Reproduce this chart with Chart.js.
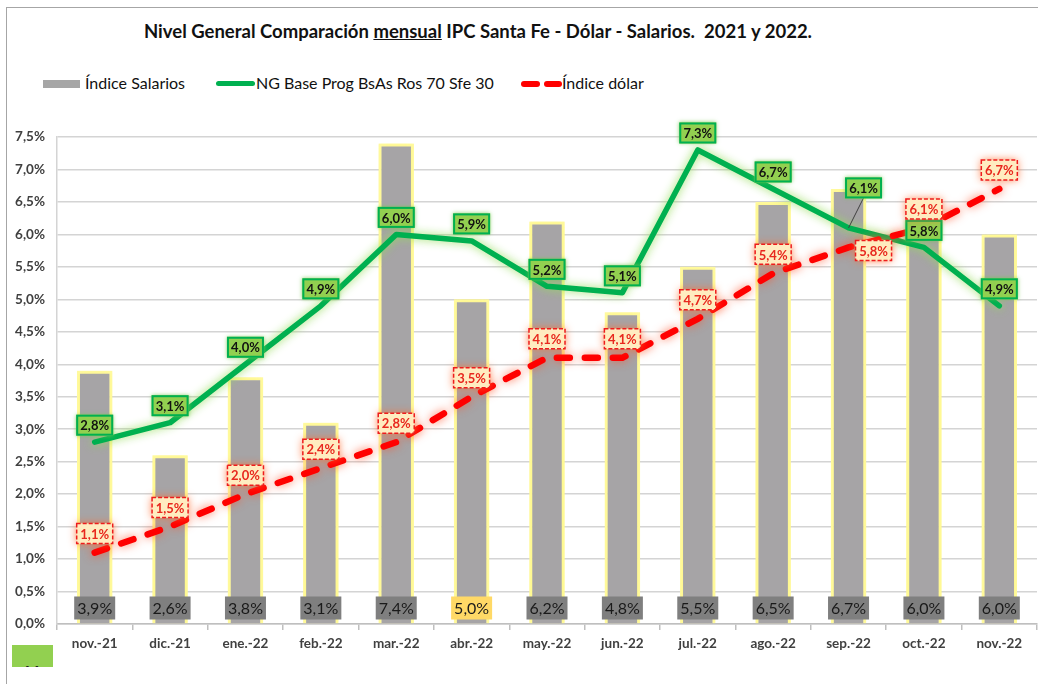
<!DOCTYPE html>
<html>
<head>
<meta charset="utf-8">
<script src="https://cdn.jsdelivr.net/npm/chart.js@4.4.1/dist/chart.umd.min.js"></script>
<style>
  body { margin: 0; background: #fff; font-family: Lato, 'Open Sans', sans-serif; }
  #wrap { position: relative; width: 1038px; height: 684px; overflow: hidden; }
  #frame { position: absolute; left: 6px; top: 7px; width: 1100px; height: 700px;
           border-left: 1px solid #a6a6a6; border-top: 1px solid #a6a6a6; }
  #title { position: absolute; top: 20px; left: 0; width: 956px; text-align: center;
           font-weight: bold; font-size: 18.5px; color: #111; white-space: pre; }
  .lg { position: absolute; font-size: 16px; color: #111; top: 73px; }
  .mk { position: absolute; }
  #mbox { position: absolute; left: 12px; top: 645px; width: 41px; height: 22px;
          background: #92d050; overflow: hidden; }
  #mbox span { position: absolute; left: 13px; top: 17px; font-weight: bold; font-size: 15px; color: #222; }
  canvas { position: absolute; left: 0; top: 0; }
</style>
</head>
<body>
<div id="wrap">
  <div id="frame"></div>
  <div id="title">Nivel General Comparación <u>mensual</u> IPC Santa Fe - Dólar - Salarios.  2021 y 2022.</div>

  <div class="mk" style="left:43px;top:80px;width:37px;height:8px;background:#a6a6a6"></div>
  <div class="lg" style="left:85px">Índice Salarios</div>
  <div class="mk" style="left:216px;top:81px;width:39px;height:5px;border-radius:3px;background:#00b050"></div>
  <div class="lg" style="left:256px">NG Base Prog BsAs Ros 70 Sfe 30</div>
  <div class="mk" style="left:521px;top:81px;width:19px;height:6px;border-radius:3px;background:#ff0000"></div>
  <div class="mk" style="left:544px;top:81px;width:18px;height:6px;border-radius:3px;background:#ff0000"></div>
  <div class="lg" style="left:562px">Índice dólar</div>

  <div id="mbox"><span>M</span></div>
  <canvas id="chart" width="1038" height="684"></canvas>
</div>

<script>
const months = ['nov.-21', 'dic.-21', 'ene.-22', 'feb.-22', 'mar.-22', 'abr.-22', 'may.-22',
                'jun.-22', 'jul.-22', 'ago.-22', 'sep.-22', 'oct.-22', 'nov.-22'];
const salarios = [3.9, 2.6, 3.8, 3.1, 7.4, 5.0, 6.2, 4.8, 5.5, 6.5, 6.7, 6.0, 6.0];
const ngBase = [2.8, 3.1, 4.0, 4.9, 6.0, 5.9, 5.2, 5.1, 7.3, 6.7, 6.1, 5.8, 4.9];
const dolar = [1.1, 1.5, 2.0, 2.4, 2.8, 3.5, 4.1, 4.1, 4.7, 5.4, 5.8, 6.1, 6.7];

const pct = v => v.toFixed(1).replace('.', ',') + '%';
const FONT = 'Lato, "Open Sans", sans-serif';

// glow behind the series, like the excel "soft edge" effect
const glow = {
  id: 'glow',
  beforeDatasetDraw(chart, args) {
    const ctx = chart.ctx;
    ctx.save();
    const lbl = args.meta.label;
    if (lbl === 'Índice Salarios') { ctx.shadowColor = 'rgba(255,245,120,0.9)'; ctx.shadowBlur = 5; }
    if (lbl.startsWith('NG')) { ctx.shadowColor = 'rgba(150,220,90,0.95)'; ctx.shadowBlur = 10; }
    if (lbl === 'Índice dólar') { ctx.shadowColor = 'rgba(255,80,40,0.75)'; ctx.shadowBlur = 10; }
  },
  afterDatasetDraw(chart) { chart.ctx.restore(); }
};

function box(ctx, cx, cy, w, h, fill, stroke, dash, lw) {
  ctx.save();
  ctx.fillStyle = fill;
  ctx.fillRect(cx - w / 2, cy - h / 2, w, h);
  if (stroke) {
    ctx.strokeStyle = stroke;
    ctx.lineWidth = lw;
    ctx.setLineDash(dash || []);
    ctx.strokeRect(cx - w / 2, cy - h / 2, w, h);
  }
  ctx.restore();
}

const labels = {
  id: 'labels',
  afterDatasetsDraw(chart) {
    const ctx = chart.ctx;
    const bottom = chart.scales.y.getPixelForValue(0);
    ctx.save();
    ctx.textAlign = 'center';
    ctx.textBaseline = 'middle';

    // bar labels at the foot of each bar
    chart.getDatasetMeta(2).data.forEach((el, i) => {
      box(ctx, el.x, bottom - 16, 41, 23, i === 5 ? '#ffd966' : '#7f7f7f');
      ctx.font = '16px ' + FONT;
      ctx.fillStyle = '#1a1a1a';
      ctx.fillText(pct(salarios[i]), el.x, bottom - 15);
    });

    // green labels
    chart.getDatasetMeta(1).data.forEach((el, i) => {
      let dx = 0, dy = -17;
      if (i === 10) {
        dx = 15; dy = -40;
        ctx.save();
        ctx.strokeStyle = '#404040';
        ctx.lineWidth = 1;
        ctx.beginPath();
        ctx.moveTo(el.x + dx, el.y + dy + 10);
        ctx.lineTo(el.x, el.y);
        ctx.stroke();
        ctx.restore();
      }
      ctx.save();
      ctx.shadowColor = 'rgba(120,200,80,0.8)';
      ctx.shadowBlur = 4;
      box(ctx, el.x + dx, el.y + dy, 37, 21, '#92d050');
      ctx.restore();
      box(ctx, el.x + dx, el.y + dy, 35, 19, '#92d050', '#00b050', null, 2);
      ctx.font = 'bold 13px ' + FONT;
      ctx.fillStyle = '#111';
      ctx.fillText(pct(ngBase[i]), el.x + dx, el.y + dy + 1);
    });

    // red labels
    chart.getDatasetMeta(0).data.forEach((el, i) => {
      let dx = 0, dy = -19;
      if (i === 10) { dx = 25; dy = 3; }
      ctx.save();
      ctx.shadowColor = 'rgba(255,110,50,0.9)';
      ctx.shadowBlur = 9;
      box(ctx, el.x + dx, el.y + dy, 36, 20, '#ffecc0');
      ctx.restore();
      box(ctx, el.x + dx, el.y + dy, 36, 20, '#ffecc0', '#ee1c1c', [4, 2], 1.5);
      ctx.font = 'bold 13px ' + FONT;
      ctx.fillStyle = '#e8281e';
      ctx.fillText(pct(dolar[i]), el.x + dx, el.y + dy + 1);
    });
    ctx.restore();
  }
};

new Chart(document.getElementById('chart'), {
  type: 'bar',
  data: {
    labels: months,
    datasets: [
      {
        type: 'line', label: 'Índice dólar', data: dolar, order: 0,
        borderColor: '#ff0000', borderWidth: 6.5, borderDash: [13, 15], borderCapStyle: 'round',
        pointRadius: 0, tension: 0, fill: false
      },
      {
        type: 'line', label: 'NG Base Prog BsAs Ros 70 Sfe 30', data: ngBase, order: 1,
        borderColor: '#00b050', borderWidth: 5.5, borderJoinStyle: 'round', borderCapStyle: 'round',
        pointRadius: 0, tension: 0, fill: false
      },
      {
        label: 'Índice Salarios', data: salarios, order: 2,
        backgroundColor: '#a6a4a6', borderColor: '#fffaa0', borderWidth: 3,
        borderSkipped: 'bottom',
        categoryPercentage: 1, barPercentage: 0.47
      }
    ]
  },
  options: {
    responsive: false,
    animation: false,
    layout: { padding: { top: 137, left: 0, right: 1, bottom: 0 } },
    plugins: { legend: { display: false }, title: { display: false }, tooltip: { enabled: false } },
    scales: {
      x: {
        grid: { drawOnChartArea: false, drawTicks: true, tickLength: 6, color: '#bfbfbf', lineWidth: 1.5 },
        border: { display: true, color: '#bfbfbf', width: 1.5 },
        ticks: { padding: 6, color: '#404040', font: { family: FONT, size: 13.5, weight: 'bold' } },
        afterFit(s) { s.height = 60; }
      },
      y: {
        min: 0, max: 7.5,
        grid: { color: '#d4d4d4', lineWidth: 1.5, drawTicks: false },
        border: { display: true, color: '#d4d4d4', width: 1.5 },
        ticks: {
          stepSize: 0.5, padding: 12, color: '#404040',
          font: { family: FONT, size: 13.5, weight: 'bold' },
          callback: v => pct(v)
        },
        afterFit(s) { s.width = 57; }
      }
    }
  },
  plugins: [glow, labels]
});
</script>
</body>
</html>
